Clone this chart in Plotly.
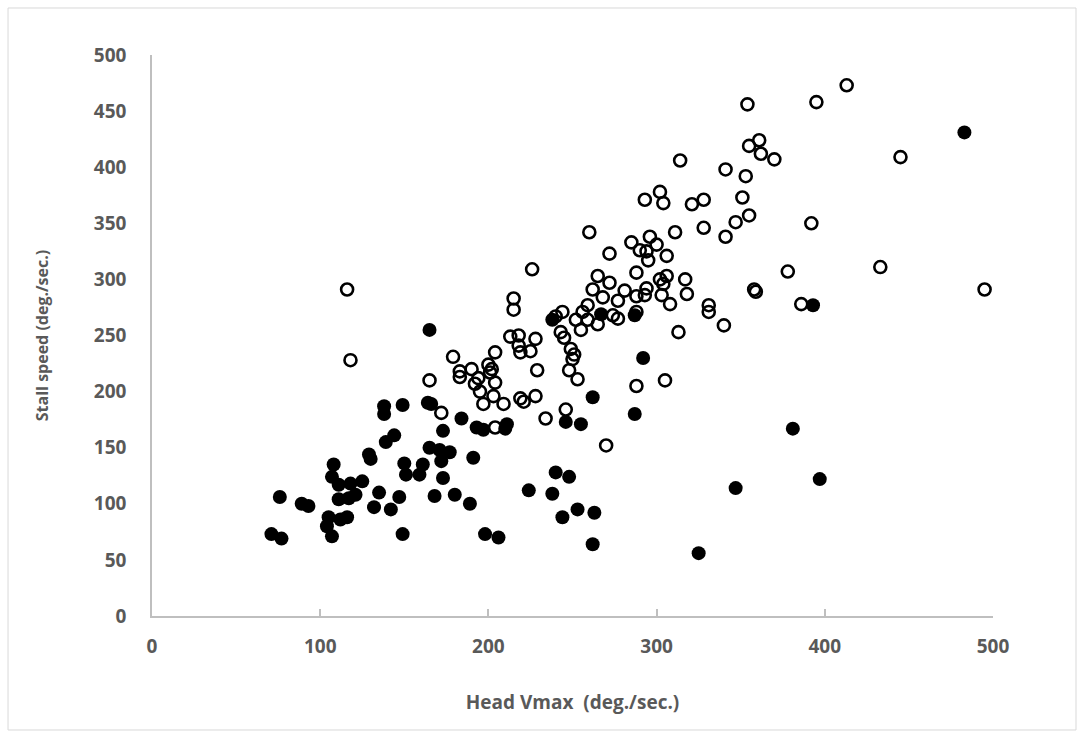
import plotly.graph_objects as go

# Open-circle group (x = Head Vmax, y = Stall speed)
open_x = [116, 118, 165, 172, 179, 183, 183, 190, 194, 192, 195, 200, 201, 202, 204,
          203, 197, 209, 219, 221, 228, 204, 234, 246, 204, 213, 218, 228, 218, 219,
          225, 215, 215, 226, 240, 244, 243, 245, 249, 251, 250, 248, 253, 229, 255,
          252, 256, 259, 259, 265, 262, 265, 272, 272, 260, 268, 277, 281, 274, 277,
          288, 288, 285, 296, 300, 290, 294, 295, 306, 302, 306, 304, 317, 318, 294,
          293, 288, 303, 308, 313, 331, 331, 340, 341, 311, 328, 288, 305, 270, 358,
          359, 378, 386, 433, 495, 354, 355, 314, 341, 353, 302, 304, 293, 321, 328,
          351, 347, 355, 392, 361, 362, 370, 395, 413, 445]
open_y = [291, 228, 210, 181, 231, 218, 213, 220, 212, 207, 200, 224, 217, 220, 208,
          196, 189, 189, 194, 191, 196, 168, 176, 184, 235, 249, 250, 247, 241, 235,
          236, 283, 273, 309, 267, 271, 253, 248, 238, 233, 229, 219, 211, 219, 255,
          264, 271, 264, 277, 260, 291, 303, 297, 323, 342, 284, 281, 290, 268, 265,
          306, 271, 333, 338, 331, 326, 325, 317, 321, 300, 303, 296, 300, 287, 292,
          286, 285, 286, 278, 253, 277, 271, 259, 338, 342, 346, 205, 210, 152, 291,
          289, 307, 278, 311, 291, 456, 419, 406, 398, 392, 378, 368, 371, 367, 371,
          373, 351, 357, 350, 424, 412, 407, 458, 473, 409]

# Filled-circle group
fill_x = [483, 393, 381, 397, 347, 325, 287, 262, 292, 287, 267, 238, 165, 149, 164,
          166, 184, 193, 197, 211, 210, 255, 246, 173, 144, 165, 171, 177, 172, 191,
          150, 161, 151, 159, 173, 147, 168, 180, 189, 142, 149, 198, 206, 224, 240,
          248, 238, 253, 263, 244, 262, 138, 138, 139, 129, 130, 108, 107, 111, 118,
          125, 111, 117, 121, 135, 132, 76, 89, 93, 112, 116, 105, 104, 107, 71, 77]
fill_y = [431, 277, 167, 122, 114, 56, 180, 195, 230, 268, 269, 264, 255, 188, 190,
          189, 176, 168, 166, 171, 167, 171, 173, 165, 161, 150, 148, 146, 138, 141,
          136, 135, 126, 126, 123, 106, 107, 108, 100, 95, 73, 73, 70, 112, 128,
          124, 109, 95, 92, 88, 64, 187, 180, 155, 144, 140, 135, 124, 117, 118,
          120, 104, 105, 108, 110, 97, 106, 100, 98, 86, 88, 88, 80, 71, 73, 69]

tick_vals = [0, 100, 200, 300, 400, 500]
y_tick_vals = [0, 50, 100, 150, 200, 250, 300, 350, 400, 450, 500]

FONT = "Open Sans"
GREY = "#595959"
AXIS = "#BFBFBF"

fig = go.Figure()
fig.add_trace(go.Scatter(
    x=open_x, y=open_y, mode="markers",
    marker=dict(symbol="circle-open", size=12, color="black",
                line=dict(width=2.6, color="black")),
    showlegend=False, hoverinfo="x+y"))
fig.add_trace(go.Scatter(
    x=fill_x, y=fill_y, mode="markers",
    marker=dict(symbol="circle", size=14, color="black",
                line=dict(width=0)),
    showlegend=False, hoverinfo="x+y"))

fig.update_layout(
    width=1084, height=738,
    margin=dict(l=152, r=91, t=55, b=122),
    paper_bgcolor="white", plot_bgcolor="white",
    font=dict(family=FONT, color=GREY),
    xaxis=dict(
        range=[0, 500], tickvals=tick_vals, ticktext=[str(v) for v in tick_vals],
        showgrid=False, zeroline=False,
        showline=True, linecolor=AXIS, linewidth=1.5,
        ticks="inside", ticklen=7, tickcolor=AXIS, tickwidth=1.5,
        tickfont=dict(family=FONT, size=19, color=GREY, weight="bold"),
        ticklabelstandoff=12,
        title=dict(text="Head Vmax  (deg./sec.)", standoff=38,
                   font=dict(family=FONT, size=19, color=GREY, weight="bold")),
    ),
    yaxis=dict(
        range=[0, 500], tickvals=y_tick_vals, ticktext=[str(v) for v in y_tick_vals],
        showgrid=False, zeroline=False,
        showline=True, linecolor=AXIS, linewidth=1.5,
        ticks="", ticklabelstandoff=20,
        tickfont=dict(family=FONT, size=19, color=GREY, weight="bold"),
        title=dict(text="Stall speed (deg./sec.)", standoff=41,
                   font=dict(family=FONT, size=16, color=GREY, weight="bold")),
    ),
    shapes=[dict(type="rect", xref="paper", yref="paper",
                 x0=-0.1712, x1=1.0987, y0=-0.2032, y1=1.0838,
                 line=dict(color="#D9D9D9", width=1), fillcolor="rgba(0,0,0,0)",
                 layer="below")],
)

fig.write_html("out.html")
